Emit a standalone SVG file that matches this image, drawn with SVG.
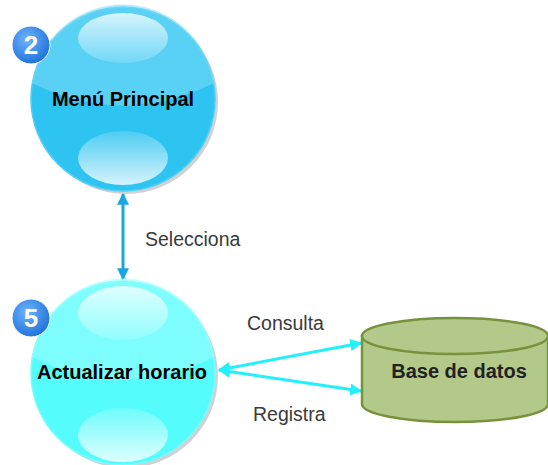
<svg xmlns="http://www.w3.org/2000/svg" width="548" height="465" viewBox="0 0 548 465">
<defs>
<style>
.lbl{font-family:"Liberation Sans",Arial,sans-serif;font-size:19.5px;fill:#3a3a3a}
.bold{font-family:"Liberation Sans",Arial,sans-serif;font-size:20px;font-weight:bold;fill:#000}
.badge{font-family:"Liberation Sans",Arial,sans-serif;font-size:26px;font-weight:bold;fill:#fff}
.hl{fill:url(#hlg)}
</style>
<linearGradient id="hlg" x1="0" y1="0" x2="0" y2="1">
<stop offset="0" stop-color="#fff" stop-opacity="0.75"/>
<stop offset="1" stop-color="#fff" stop-opacity="0.15"/>
</linearGradient>
<linearGradient id="hlg2" x1="0" y1="0" x2="0" y2="1">
<stop offset="0" stop-color="#fff" stop-opacity="0.15"/>
<stop offset="1" stop-color="#fff" stop-opacity="0.8"/>
</linearGradient>
<radialGradient id="bdg" cx="0.4" cy="0.35" r="0.7">
<stop offset="0" stop-color="#6fb4ff"/>
<stop offset="1" stop-color="#1a6fd8"/>
</radialGradient>
<marker id="ab" viewBox="0 0 10 10" refX="9" refY="5" markerWidth="4" markerHeight="4" orient="auto-start-reverse">
<path d="M0,0 L10,5 L0,10 z" fill="#1AA6E2"/>
</marker>
<marker id="ac" viewBox="0 0 10 10" refX="9" refY="5" markerWidth="4" markerHeight="4" orient="auto-start-reverse">
<path d="M0,0 L10,5 L0,10 z" fill="#22F0FA"/>
</marker>
</defs>
<rect width="548" height="465" fill="#fff"/>

<g id="connectors">
<line x1="123" y1="194" x2="123" y2="279" stroke="#1AA6E2" stroke-width="3" marker-start="url(#ab)" marker-end="url(#ab)"/>
<line x1="219" y1="370" x2="361" y2="343" stroke="#22F0FA" stroke-width="3" marker-start="url(#ac)" marker-end="url(#ac)"/>
<line x1="219" y1="370" x2="361" y2="391" stroke="#22F0FA" stroke-width="3" marker-start="url(#ac)" marker-end="url(#ac)"/>
<text class="lbl" x="145" y="246">Selecciona</text>
<text class="lbl" x="247" y="330">Consulta</text>
<text class="lbl" x="253" y="421">Registra</text>
</g>

<g id="menu">
<circle cx="126" cy="102" r="92" fill="#bdbdbd" opacity="0.7"/>
<circle cx="123" cy="99" r="92" fill="#2EC4F1" stroke="#4FCFF4" stroke-width="1.5"/>
<path d="M32,83 A92,92 0 0 1 214,83 Q123,128 32,83 z" fill="#7EDDF8" opacity="0.55"/>
<ellipse class="hl" cx="123" cy="38" rx="45" ry="25"/>
<ellipse cx="123" cy="158" rx="45" ry="27" fill="url(#hlg2)"/>
<text class="bold" x="123" y="106" text-anchor="middle">Menú Principal</text>
<circle cx="31" cy="45" r="19" fill="url(#bdg)" stroke="#fff" stroke-width="1"/>
<text class="badge" x="31" y="54" text-anchor="middle">2</text>
</g>

<g id="actualizar">
<circle cx="126" cy="376" r="92" fill="#bdbdbd" opacity="0.7"/>
<circle cx="123" cy="373" r="92" fill="#55FCFC" stroke="#7afcfc" stroke-width="1.5"/>
<path d="M32,357 A92,92 0 0 1 214,357 Q123,402 32,357 z" fill="#9ffdfd" opacity="0.55"/>
<ellipse class="hl" cx="123" cy="313" rx="45" ry="27"/>
<ellipse cx="123" cy="435" rx="45" ry="27" fill="url(#hlg2)"/>
<text class="bold" x="122" y="379" text-anchor="middle">Actualizar horario</text>
<circle cx="31" cy="318" r="19" fill="url(#bdg)" stroke="#fff" stroke-width="1"/>
<text class="badge" x="31" y="327" text-anchor="middle">5</text>
</g>

<g id="basedatos">
<path d="M362,336 L362,404 A93,18 0 0 0 548,404 L548,336 z" fill="#B2C98A" stroke="#76923C" stroke-width="2.5"/>
<ellipse cx="455" cy="336" rx="93" ry="18" fill="#B2C98A" stroke="#76923C" stroke-width="2.5"/>
<text class="bold" x="459" y="378" text-anchor="middle" style="fill:#222">Base de datos</text>
</g>
</svg>
